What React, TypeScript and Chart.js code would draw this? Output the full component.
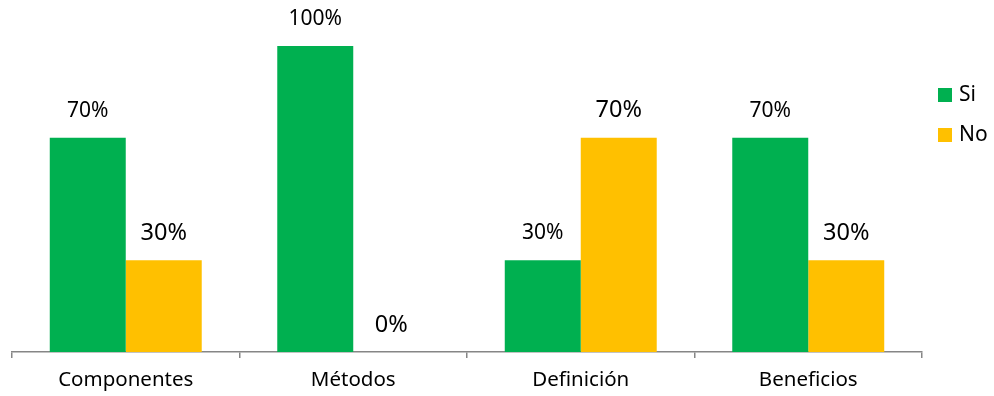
import React, { useEffect, useRef } from "react";
import { Chart, registerables } from "chart.js";

Chart.register(...registerables);

const categories = ["Componentes", "Métodos", "Definición", "Beneficios"];
const siValues = [70, 100, 30, 70];
const noValues = [30, 0, 70, 30];
const seriesNames = ["Si", "No"];
const seriesColors = ["#00B050", "#FFC000"];

const FONT = "'Noto Sans', 'Open Sans', sans-serif";

// Percentage labels above each bar; the "No" series uses a slightly larger type.
const valueLabels = {
  id: "valueLabels",
  afterDatasetsDraw(chart: any) {
    const ctx = chart.ctx;
    ctx.save();
    ctx.fillStyle = "#000";
    ctx.textAlign = "center";
    ctx.textBaseline = "middle";
    chart.data.datasets.forEach((ds: any, di: number) => {
      const meta = chart.getDatasetMeta(di);
      ctx.font = `${di === 0 ? 21 : 23.5}px ${FONT}`;
      meta.data.forEach((bar: any, i: number) => {
        ctx.fillText(`${ds.data[i]}%`, bar.x, bar.y - 27);
      });
    });
    ctx.restore();
  },
};

// Legend on the right: square swatch followed by series name.
const sideLegend = {
  id: "sideLegend",
  afterDraw(chart: any) {
    const ctx = chart.ctx;
    ctx.save();
    ctx.font = `21px ${FONT}`;
    ctx.textBaseline = "middle";
    ctx.textAlign = "left";
    const x = chart.chartArea.right + 16;
    seriesNames.forEach((name, i) => {
      const cy = 95 + i * 40;
      ctx.fillStyle = seriesColors[i];
      ctx.fillRect(x, cy - 7, 14, 14);
      ctx.fillStyle = "#000";
      ctx.fillText(name, x + 21, cy);
    });
    ctx.restore();
  },
};

export default function App() {
  const canvasRef = useRef<HTMLCanvasElement | null>(null);

  useEffect(() => {
    if (!canvasRef.current) return;
    const chart = new Chart(canvasRef.current, {
      type: "bar",
      data: {
        labels: categories,
        datasets: [
          { label: seriesNames[0], data: siValues, backgroundColor: seriesColors[0] },
          { label: seriesNames[1], data: noValues, backgroundColor: seriesColors[1] },
        ],
      },
      options: {
        animation: false,
        responsive: true,
        maintainAspectRatio: false,
        layout: { padding: { left: 12, top: 46, right: 72, bottom: 0 } },
        datasets: {
          bar: { categoryPercentage: 0.668, barPercentage: 1, borderWidth: 0 },
        },
        plugins: {
          legend: { display: false },
          tooltip: { enabled: false },
        },
        scales: {
          x: {
            grid: {
              display: true,
              drawOnChartArea: false,
              drawTicks: true,
              tickLength: 6,
              offset: true,
              color: "#868686",
              lineWidth: 1.5,
            },
            border: { display: true, color: "#868686", width: 1.5 },
            ticks: {
              color: "#000",
              padding: 10,
              font: { family: FONT, size: 20.5 },
              maxRotation: 0,
            },
            afterFit(scale: any) {
              scale.height = 44;
            },
          },
          y: {
            display: false,
            min: 0,
            max: 100,
          },
        },
      },
      plugins: [valueLabels, sideLegend],
    });
    return () => chart.destroy();
  }, []);

  return (
    <div style={{ position: "fixed", left: 0, top: 0, width: 994, height: 396, background: "#fff" }}>
      <canvas ref={canvasRef} />
    </div>
  );
}
